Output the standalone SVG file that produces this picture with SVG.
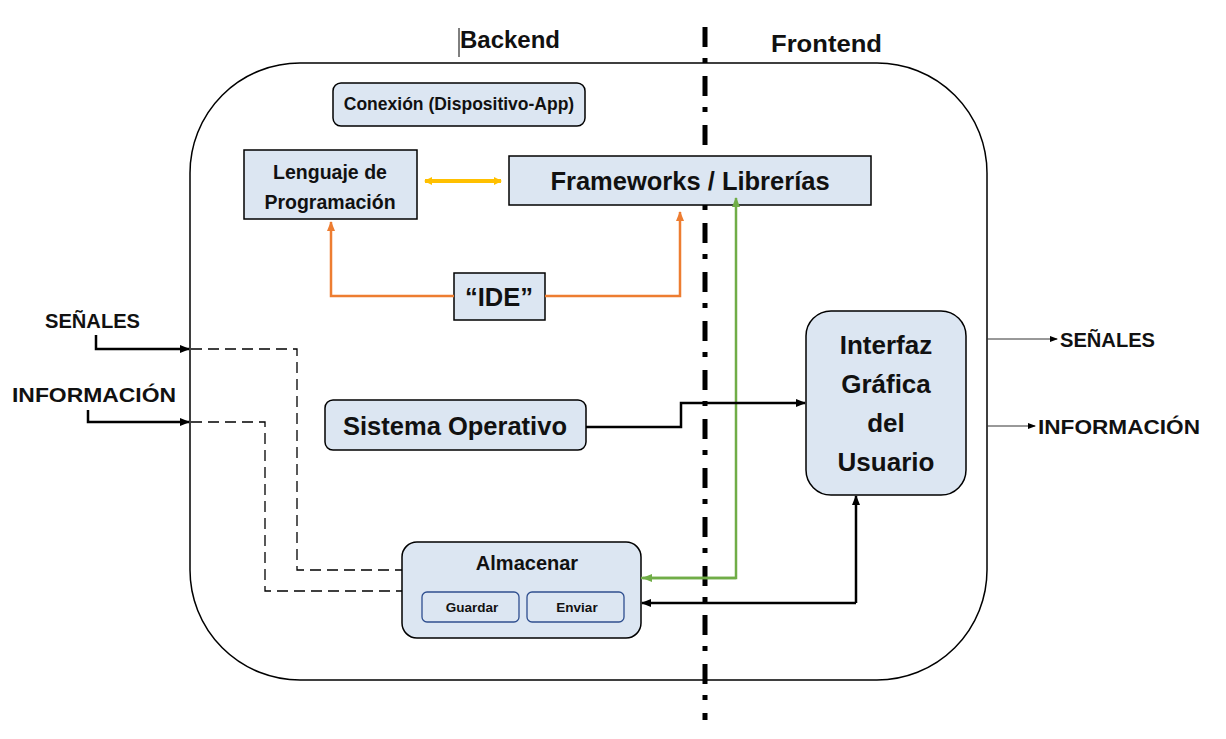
<svg xmlns="http://www.w3.org/2000/svg" width="1226" height="739" viewBox="0 0 1226 739">
<defs>
<style>
text{font-family:"Liberation Sans",Arial,sans-serif;font-weight:bold;fill:#111;}
.box{fill:#DCE6F2;stroke:#000;stroke-width:1.5;}
.c{text-anchor:middle;}
.blk{fill:none;stroke:#000;stroke-width:2.5;}
.thin{fill:none;stroke:#333;stroke-width:1;}
.dash{fill:none;stroke:#000;stroke-width:1.3;stroke-dasharray:11 6;}
.org{fill:none;stroke:#ED7D31;stroke-width:2.5;}
.grn{fill:none;stroke:#70AD47;stroke-width:2.5;}
</style>
<marker id="ab" markerWidth="10" markerHeight="8" refX="9" refY="4" orient="auto" markerUnits="userSpaceOnUse"><path d="M0,0 L10,4 L0,8 z" fill="#000"/></marker>
<marker id="at" markerWidth="8" markerHeight="6" refX="7" refY="3" orient="auto" markerUnits="userSpaceOnUse"><path d="M0,0 L8,3 L0,6 z" fill="#000"/></marker>
<marker id="ao" markerWidth="10" markerHeight="8" refX="9" refY="4" orient="auto" markerUnits="userSpaceOnUse"><path d="M0,0 L10,4 L0,8 z" fill="#ED7D31"/></marker>
<marker id="ag" markerWidth="10" markerHeight="8" refX="9" refY="4" orient="auto" markerUnits="userSpaceOnUse"><path d="M0,0 L10,4 L0,8 z" fill="#70AD47"/></marker>
<marker id="ay" markerWidth="8" markerHeight="8" refX="7" refY="4" orient="auto-start-reverse" markerUnits="userSpaceOnUse"><path d="M0,0 L8,4 L0,8 z" fill="#FFC000"/></marker>
</defs>
<rect width="1226" height="739" fill="#fff"/>

<g id="outer">
<rect x="190" y="63" width="797" height="617" rx="110" ry="110" fill="none" stroke="#000" stroke-width="1.5"/>
</g>

<g id="divider">
<line x1="705" y1="27" x2="705" y2="720" stroke="#000" stroke-width="5" stroke-dasharray="20 11 5 13"/>
</g>

<g id="headers">
<line x1="459" y1="28" x2="459" y2="57" stroke="#000" stroke-width="1"/>
<text x="460" y="48" font-size="24" textLength="100" lengthAdjust="spacingAndGlyphs">Backend</text>
<text x="771" y="52" font-size="24" textLength="111" lengthAdjust="spacingAndGlyphs">Frontend</text>
</g>

<g id="conexion">
<rect class="box" x="333" y="83" width="252" height="43" rx="8"/>
<text class="c" x="459" y="110" font-size="17.5">Conexión (Dispositivo-App)</text>
</g>

<g id="lenguaje">
<rect class="box" x="244" y="150" width="173" height="69"/>
<text class="c" x="330" y="179" font-size="19.5">Lenguaje de</text>
<text class="c" x="330" y="209" font-size="19.5">Programación</text>
</g>

<g id="frameworks">
<rect class="box" x="509" y="156" width="362" height="49"/>
<text class="c" x="690" y="190" font-size="25.5">Frameworks / Librerías</text>
</g>

<g id="ide">
<rect class="box" x="454" y="273" width="91" height="47"/>
<text class="c" x="499" y="306" font-size="25.5">“IDE”</text>
</g>

<g id="sistema">
<rect class="box" x="325" y="400" width="261" height="50" rx="8"/>
<text class="c" x="455" y="435" font-size="25.5">Sistema Operativo</text>
</g>

<g id="interfaz">
<rect class="box" x="806" y="311" width="160" height="184" rx="25"/>
<text class="c" x="886" y="354" font-size="26">Interfaz</text>
<text class="c" x="886" y="393" font-size="26">Gráfica</text>
<text class="c" x="886" y="432" font-size="26">del</text>
<text class="c" x="886" y="471" font-size="26">Usuario</text>
</g>

<g id="almacenar">
<rect class="box" x="402" y="542" width="239" height="96" rx="15"/>
<text class="c" x="527" y="570" font-size="20">Almacenar</text>
<g id="guardar">
<rect x="422" y="592" width="97" height="30" rx="5" fill="#DCE6F2" stroke="#2F4F8F" stroke-width="1.3"/>
<text class="c" x="472" y="612" font-size="13.5">Guardar</text>
</g>
<g id="enviar">
<rect x="527" y="592" width="97" height="30" rx="5" fill="#DCE6F2" stroke="#2F4F8F" stroke-width="1.3"/>
<text class="c" x="577" y="612" font-size="13.5">Enviar</text>
</g>
</g>

<g id="io-labels">
<text x="45" y="328" font-size="20" textLength="95" lengthAdjust="spacingAndGlyphs">SEÑALES</text>
<text x="12" y="402" font-size="20" textLength="164" lengthAdjust="spacingAndGlyphs">INFORMACIÓN</text>
<text x="1060" y="347" font-size="20" textLength="95" lengthAdjust="spacingAndGlyphs">SEÑALES</text>
<text x="1038" y="434" font-size="20" textLength="162" lengthAdjust="spacingAndGlyphs">INFORMACIÓN</text>
</g>

<g id="connectors">
<line x1="425" y1="181" x2="501" y2="181" stroke="#FFC000" stroke-width="4" marker-start="url(#ay)" marker-end="url(#ay)"/>
<polyline class="org" points="454,296 331,296 331,222" marker-end="url(#ao)"/>
<polyline class="org" points="545,296 680,296 680,212" marker-end="url(#ao)"/>
<polyline class="grn" points="641,578 736,578 736,198" marker-end="url(#ag)"/>
<polyline class="grn" points="736,578 643,578" marker-end="url(#ag)"/>
<polyline class="blk" points="586,427 681,427 681,403 805,403" marker-end="url(#ab)"/>
<polyline class="blk" points="856,603 856,496" marker-end="url(#ab)"/>
<polyline class="blk" points="856,603 642,603" marker-end="url(#ab)"/>
<polyline class="blk" points="96,335 96,349 189,349" marker-end="url(#ab)"/>
<polyline class="blk" points="88,410 88,422 189,422" marker-end="url(#ab)"/>
<polyline class="dash" points="191,349 297,349 297,570 402,570"/>
<polyline class="dash" points="191,422 265,422 265,591 402,591"/>
<line class="thin" x1="987" y1="339" x2="1057" y2="339" marker-end="url(#at)"/>
<line class="thin" x1="987" y1="426" x2="1035" y2="426" marker-end="url(#at)"/>
</g>
</svg>
